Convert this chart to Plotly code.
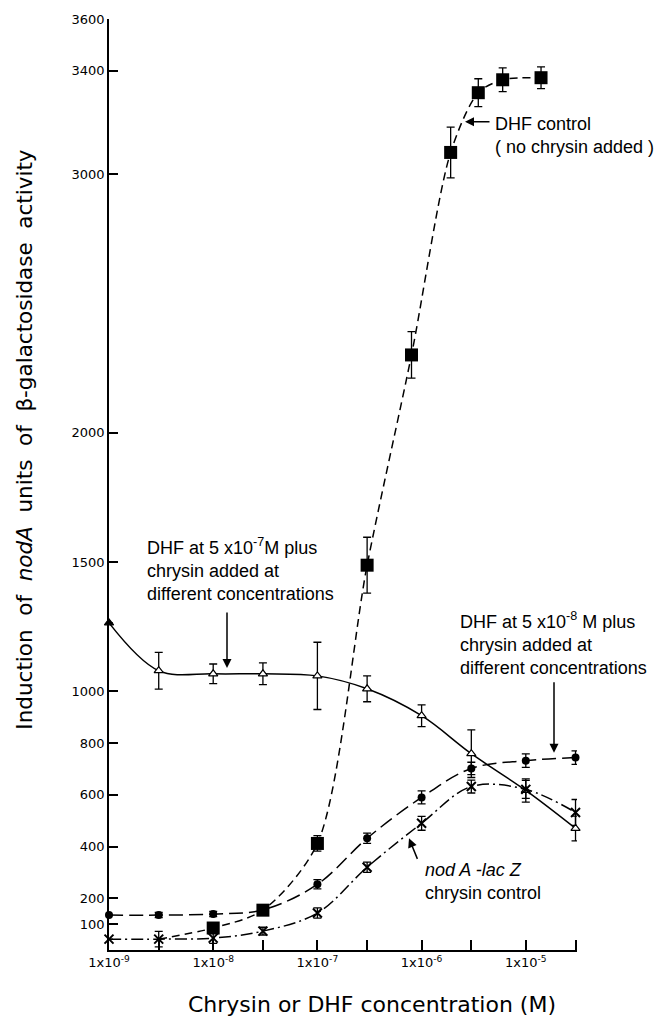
import math
import plotly.graph_objects as go

# ---------------- data ----------------
# DHF control (no chrysin added) - big filled squares
dhf_x = [1e-8, 3e-8, 1e-7, 3e-7, 8e-7, 1.9e-6, 3.5e-6, 6e-6, 1.4e-5]
dhf_y = [85, 154, 412, 1488, 2301, 3084, 3315, 3365, 3373]
dhf_err = [0, 0, 30, 108, 90, 98, 54, 46, 42]
# fitted dashed curve for DHF control starts from the basal level
dhf_curve_start_x = [3e-9]
dhf_curve_start_y = [42]

# DHF 5x10-7 M plus chrysin - open triangles
tri_x = [1e-9, 3e-9, 1e-8, 3e-8, 1e-7, 3e-7, 1e-6, 3e-6, 1e-5, 3e-5]
tri_y = [1265, 1080, 1068, 1068, 1060, 1010, 906, 759, 617, 470]
tri_err = [0, 71, 38, 42, 130, 50, 42, 92, 45, 48]

# DHF 5x10-8 M plus chrysin - filled circles
cir_x = [1e-9, 3e-9, 1e-8, 3e-8, 1e-7, 3e-7, 1e-6, 3e-6, 1e-5, 3e-5]
cir_y = [135, 135, 139, 155, 254, 432, 590, 702, 732, 744]
cir_err = [0, 10, 10, 10, 18, 20, 25, 24, 26, 26]

# nodA-lacZ chrysin control - crosses
crs_x = [1e-9, 3e-9, 1e-8, 3e-8, 1e-7, 3e-7, 1e-6, 3e-6, 1e-5, 3e-5]
crs_y = [42, 42, 46, 73, 143, 320, 490, 632, 621, 532]
crs_err = [0, 30, 20, 15, 20, 20, 27, 25, 35, 50]

# axis ticks
x_tickvals = [1e-9, 3e-9, 1e-8, 3e-8, 1e-7, 3e-7, 1e-6, 3e-6, 1e-5, 3e-5]
x_ticktext = ["1x10<sup>-9</sup>", "", "1x10<sup>-8</sup>", "", "1x10<sup>-7</sup>", "",
              "1x10<sup>-6</sup>", "", "1x10<sup>-5</sup>", ""]
y_tickvals = [100, 200, 400, 600, 800, 1000, 1500, 2000, 3000, 3400, 3600]

# ---------------- layout geometry ----------------
W, H = 655, 1017
L, R, T, B = 109, 78, 16, 67
PW, PH = W - L - R, H - T - B


def px(xp):
    return (xp - L) / PW


def py(yp):
    return (H - B - yp) / PH


AX_FONT = "DejaVu Sans, Lato, sans-serif"
TXT_FONT = "Liberation Sans, Arial, sans-serif"

fig = go.Figure()

err_style = dict(type="data", color="black", thickness=1.3, width=4)

# DHF control curve + markers
fig.add_trace(go.Scatter(
    x=dhf_curve_start_x + dhf_x, y=dhf_curve_start_y + dhf_y, mode="lines",
    line=dict(color="black", width=1.5, dash="8px,5px", shape="spline", smoothing=0.8),
    hoverinfo="skip", cliponaxis=False))
fig.add_trace(go.Scatter(
    x=dhf_x, y=dhf_y, mode="markers", cliponaxis=False,
    marker=dict(symbol="square", size=13, color="black"),
    error_y=dict(array=dhf_err, **err_style)))

# triangles
tri_colors = ["black"] + ["white"] * (len(tri_x) - 1)
fig.add_trace(go.Scatter(
    x=tri_x, y=tri_y, mode="lines+markers", cliponaxis=False,
    line=dict(color="black", width=1.5, shape="spline", smoothing=1.0),
    marker=dict(symbol="triangle-up", size=8, color=tri_colors,
                line=dict(color="black", width=1.2)),
    error_y=dict(array=tri_err, **err_style)))

# circles
fig.add_trace(go.Scatter(
    x=cir_x, y=cir_y, mode="lines+markers", cliponaxis=False,
    line=dict(color="black", width=1.5, dash="14px,6px", shape="spline", smoothing=1.0),
    marker=dict(symbol="circle", size=8, color="black"),
    error_y=dict(array=cir_err, **err_style)))

# crosses
fig.add_trace(go.Scatter(
    x=crs_x, y=crs_y, mode="lines+markers", cliponaxis=False,
    line=dict(color="black", width=1.5, dash="12px,4px,2px,4px", shape="spline", smoothing=1.0),
    marker=dict(symbol="x-thin", size=9, color="black", line=dict(color="black", width=2)),
    error_y=dict(array=crs_err, **err_style)))

annotations = []
txt = dict(family=TXT_FONT, size=18, color="black")
annotations.append(dict(xref="paper", yref="paper", x=px(493), y=py(133),
                        xanchor="left", yanchor="middle", align="left", showarrow=False,
                        text="DHF control<br>( no chrysin added )", font=txt))
annotations.append(dict(xref="paper", yref="paper", x=px(145), y=py(532),
                        xanchor="left", yanchor="top", align="left", showarrow=False,
                        text="DHF at 5 x10<sup>-7</sup>M plus<br>chrysin added at<br>different concentrations",
                        font=txt))
annotations.append(dict(xref="paper", yref="paper", x=px(458), y=py(606),
                        xanchor="left", yanchor="top", align="left", showarrow=False,
                        text="DHF at 5 x10<sup>-8</sup> M plus<br>chrysin added at<br>different concentrations",
                        font=txt))
annotations.append(dict(xref="paper", yref="paper", x=px(423), y=py(858),
                        xanchor="left", yanchor="top", align="left", showarrow=False,
                        text="<i>nod A -lac Z</i><br>chrysin control", font=txt))

# arrows (head, tail) in pixels
for (hx, hy, tx, ty) in [(465, 119, 491, 119), (227, 667, 227, 610),
                         (554, 752, 554, 680), (409, 838, 418, 860)]:
    annotations.append(dict(xref="paper", yref="paper", x=px(hx), y=py(hy),
                            ax=tx - hx, ay=ty - hy, text="", showarrow=True,
                            arrowhead=2, arrowsize=1.2, arrowwidth=1.5, arrowcolor="black"))

# axis titles
annotations.append(dict(xref="paper", yref="paper", x=px(372), y=py(1005),
                        xanchor="center", yanchor="middle", showarrow=False,
                        text="Chrysin or DHF concentration (M)",
                        font=dict(family=AX_FONT, size=22, color="black")))
annotations.append(dict(xref="paper", yref="paper", x=px(25), y=py(438),
                        xanchor="center", yanchor="middle", showarrow=False, textangle=-90,
                        text="Induction\u00a0 of\u00a0 <i>nodA</i>\u00a0 units\u00a0 of\u00a0 \u03b2-galactosidase\u00a0 activity",
                        font=dict(family=AX_FONT, size=21.5, color="black")))

fig.update_layout(
    width=W, height=H, margin=dict(l=L, r=R, t=T, b=B),
    paper_bgcolor="white", plot_bgcolor="white", showlegend=False,
    annotations=annotations,
    xaxis=dict(type="log", range=[-9, math.log10(3.1e-5)], showline=True, linecolor="black",
               linewidth=1.5, ticks="inside", ticklen=10, tickwidth=1.5, tickcolor="black",
               tickvals=x_tickvals, ticktext=x_ticktext, showgrid=False, zeroline=False,
               tickfont=dict(family=AX_FONT, size=13, color="black")),
    yaxis=dict(range=[0, 3600], showline=True, linecolor="black", linewidth=1.5,
               ticks="inside", ticklen=9, tickwidth=1.5, tickcolor="black",
               tickvals=y_tickvals, showgrid=False, zeroline=False,
               tickfont=dict(family=AX_FONT, size=13, color="black")),
)

fig.write_html("out.html")
